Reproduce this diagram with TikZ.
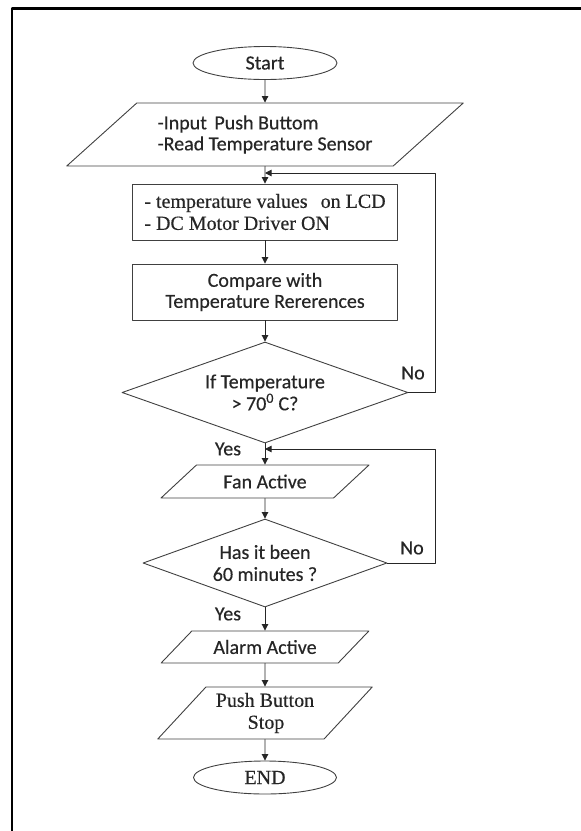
\documentclass[tikz,border=0pt]{standalone}
\usepackage{fontspec}
\setmainfont[FakeBold=0.4]{Liberation Serif}
\newfontfamily\calib[FakeBold=0.4]{Carlito}
\usepackage{tikz}
\usetikzlibrary{arrows.meta}
\usetikzlibrary{shapes.geometric}

\begin{document}
\begin{tikzpicture}[line cap=round,line join=round,>={Triangle[length=6.5pt,width=6.5pt]},x=1pt,y=1pt,
  every node/.style={text=black!85,font=\calib\fontsize{20}{21}\selectfont},
  serif/.style={font=\rmfamily\fontsize{20}{22}\selectfont},
  flow/.style={draw=black!75,line width=0.9pt},
  term/.style={flow,ellipse,inner sep=0pt},
  iobox/.style={flow,trapezium,trapezium left angle=33,trapezium right angle=147,trapezium stretches=true,inner sep=0pt},
  procbox/.style={flow,rectangle,minimum width=265pt,minimum height=56pt,inner sep=0pt},
  decide/.style={flow,diamond,aspect=2.8,inner sep=0pt,align=center,font=\calib\fontsize{20}{22}\selectfont},
  conn/.style={->,draw=black!85,line width=0.9pt}]
\useasboundingbox (0,0) rectangle (581,-831);
% frame
\draw [line width=2.2pt,line cap=butt] (12,-831) -- (12,-8.5) -- (581,-8.5);
% boxes
\node [term,minimum width=144pt,minimum height=33pt] (start) at (265,-63) {Start};
\node [iobox,minimum width=397pt,minimum height=63pt,align=left] (inp) at (265,-134.5) {-Input\hspace{3pt} Push Buttom\\-Read Temperature Sensor};
\node [procbox,serif,align=left] (lcd) at (265,-212) {- temperature values\hspace{8pt} on LCD\\- DC Motor Driver ON};
\node [procbox,align=center] (cmp) at (265,-292) {Compare with\\Temperature Rererences};
\node [decide,minimum width=286pt,minimum height=101pt] (tmp) at (265,-392.5) {If Temperature\\> 70\textsuperscript{0} C?};
\node [iobox,minimum width=208pt,minimum height=33pt] (fan) at (265,-481.5) {Fan Active};
\node [decide,minimum width=244pt,minimum height=88pt] (mins) at (265,-563) {Has it been\\60 minutes ?};
\node [iobox,minimum width=208pt,minimum height=32pt] (alarm) at (265,-647) {Alarm Active};
\node [iobox,serif,trapezium left angle=45,trapezium right angle=135,minimum width=215pt,minimum height=52pt,align=center] (stop) at (265,-713) {Push Button\\\hspace{2pt}Stop};
\node [term,serif,minimum width=143pt,minimum height=33pt] (end) at (265,-777.5) {END};
% labels
\node (no1) at (413,-373) {No};
\node (yes1) at (228,-449) {Yes};
\node (no2) at (412,-548) {No};
\node (yes2) at (228,-614) {Yes};
% loop points
\coordinate (j1) at (265,-173);
\coordinate (r1) at (435,-173);
\coordinate (j2) at (265,-449);
\coordinate (r2) at (435,-449);
% arrows
\draw [conn] (start) -- (inp);
\draw [conn] (inp) -- (lcd);
\draw [conn] (lcd) -- (cmp);
\draw [conn] (cmp) -- (tmp);
\draw [conn] (tmp) -- (fan);
\draw [conn] (fan) -- (mins);
\draw [conn] (mins) -- (alarm);
\draw [conn] (alarm) -- (stop);
\draw [conn] (stop) -- (end);
\draw [conn] (tmp.east) -| (r1) -- (j1);
\draw [conn] (mins.east) -| (r2) -- (j2);
\end{tikzpicture}
\end{document}
